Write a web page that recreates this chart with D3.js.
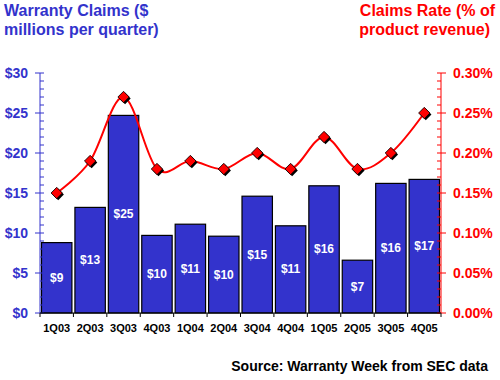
<!DOCTYPE html>
<html lang="en">
<head>
	<meta charset="UTF-8">
	<title>Warranty Claims</title>
	<script src="https://cdn.jsdelivr.net/npm/d3@7"></script>
	<style>
		body{margin:0;background:#fff;}
		svg{display:block;font-family:"Liberation Sans",Arial,sans-serif;font-weight:bold;}
	</style>
</head>
<body>
	<div id="main"></div>
	<script>
		var quarters = ["1Q03","2Q03","3Q03","4Q03","1Q04","2Q04","3Q04","4Q04","1Q05","2Q05","3Q05","4Q05"];
		var claims = [8.8, 13.2, 24.7, 9.7, 11.1, 9.6, 14.6, 10.9, 15.9, 6.6, 16.2, 16.7];
		var claimLabels = ["$9","$13","$25","$10","$11","$10","$15","$11","$16","$7","$16","$17"];
		var rates = [0.15, 0.19, 0.27, 0.18, 0.19, 0.18, 0.20, 0.18, 0.22, 0.18, 0.20, 0.25];
		var leftTicks = [0, 5, 10, 15, 20, 25, 30];
		var rightTicks = [0, 0.05, 0.10, 0.15, 0.20, 0.25, 0.30];

		var w = 500, h = 380,
			blue = "#3333cc", red = "#ff0000",
			pL = 40, pR = 441, pT = 73, pB = 313;

		var svg = d3.select("#main").append("svg")
			.attr("width", w).attr("height", h);

		var x = d3.scaleBand().domain(quarters).range([pL, pR]).paddingInner(0.09).paddingOuter(0.045);
		var y = d3.scaleLinear().domain([0, 30]).range([pB, pT]);
		var y2 = d3.scaleLinear().domain([0, 0.30]).range([pB, pT]);

		// titles
		var t1 = svg.append("text").attr("fill", blue).attr("font-size", 16);
		t1.append("tspan").attr("x", 4).attr("y", 16).text("Warranty Claims ($");
		t1.append("tspan").attr("x", 4).attr("y", 35).text("millions per quarter)");
		var t2 = svg.append("text").attr("fill", red).attr("font-size", 16).attr("text-anchor", "end");
		t2.append("tspan").attr("x", 495).attr("y", 16).text("Claims Rate (% of");
		t2.append("tspan").attr("x", 490).attr("y", 35).text("product revenue)");

		// bars
		var bars = svg.append("g");
		bars.selectAll("rect").data(claims).enter().append("rect")
			.attr("x", (d, i) => x(quarters[i]))
			.attr("y", d => y(d))
			.attr("width", x.bandwidth())
			.attr("height", d => pB - y(d))
			.attr("fill", blue)
			.attr("stroke", "#000")
			.attr("stroke-width", 1.2);
		bars.selectAll("text").data(claims).enter().append("text")
			.attr("x", (d, i) => x(quarters[i]) + x.bandwidth() / 2)
			.attr("y", d => (y(d) + pB) / 2 + 4)
			.attr("text-anchor", "middle")
			.attr("fill", "#fff")
			.attr("font-size", 12)
			.text((d, i) => claimLabels[i]);

		// left axis
		var la = svg.append("g").attr("stroke", blue);
		la.append("line").attr("x1", pL).attr("x2", pL).attr("y1", pT).attr("y2", pB);
		d3.range(0, 31).forEach(function(v){
			var major = v % 5 == 0;
			la.append("line")
				.attr("x1", major ? pL - 5 : pL).attr("x2", pL + 4)
				.attr("y1", y(v)).attr("y2", y(v));
		});
		svg.append("g").selectAll("text").data(leftTicks).enter().append("text")
			.attr("x", 28).attr("y", d => y(d) + 5)
			.attr("text-anchor", "end").attr("fill", blue).attr("font-size", 14)
			.text(d => "$" + d);

		// right axis
		var ra = svg.append("g").attr("stroke", red);
		ra.append("line").attr("x1", pR).attr("x2", pR).attr("y1", pT).attr("y2", pB);
		d3.range(0, 31).forEach(function(v){
			var major = v % 5 == 0;
			ra.append("line")
				.attr("x1", pR - 4).attr("x2", major ? pR + 5 : pR)
				.attr("y1", y2(v / 100)).attr("y2", y2(v / 100));
		});
		svg.append("g").selectAll("text").data(rightTicks).enter().append("text")
			.attr("x", 453).attr("y", d => y2(d) + 5)
			.attr("fill", red).attr("font-size", 14)
			.text(d => d.toFixed(2) + "%");

		// x axis
		var xa = svg.append("g").attr("stroke", "#000");
		xa.append("line").attr("x1", pL).attr("x2", pR).attr("y1", pB).attr("y2", pB);
		d3.range(0, quarters.length + 1).forEach(function(i){
			var xx = pL + i * (pR - pL) / quarters.length;
			xa.append("line").attr("x1", xx).attr("x2", xx).attr("y1", pB).attr("y2", pB + 4);
		});
		svg.append("g").selectAll("text").data(quarters).enter().append("text")
			.attr("x", d => x(d) + x.bandwidth() / 2).attr("y", 332)
			.attr("text-anchor", "middle").attr("fill", "#000").attr("font-size", 11)
			.text(d => d);

		// rate line
		var line = d3.line()
			.x((d, i) => x(quarters[i]) + x.bandwidth() / 2)
			.y(d => y2(d))
			.curve(d3.curveCardinal.tension(0));
		svg.append("path").datum(rates)
			.attr("d", line).attr("fill", "none").attr("stroke", red).attr("stroke-width", 2);
		var diamond = d3.symbol().type(d3.symbolSquare).size(64);
		var mk = svg.append("g");
		rates.forEach(function(d, i){
			var cx = x(quarters[i]) + x.bandwidth() / 2, cy = y2(d);
			mk.append("path").attr("d", diamond())
				.attr("transform", "translate(" + (cx + 1.5) + "," + (cy + 1.5) + ") rotate(45)")
				.attr("fill", "#000");
			mk.append("path").attr("d", diamond())
				.attr("transform", "translate(" + cx + "," + cy + ") rotate(45)")
				.attr("fill", red).attr("stroke", "#000").attr("stroke-width", 0.8);
		});

		svg.append("text").attr("x", 488).attr("y", 371).attr("text-anchor", "end")
			.attr("font-size", 14).attr("fill", "#000")
			.text("Source: Warranty Week from SEC data");
	</script>
</body>
</html>
